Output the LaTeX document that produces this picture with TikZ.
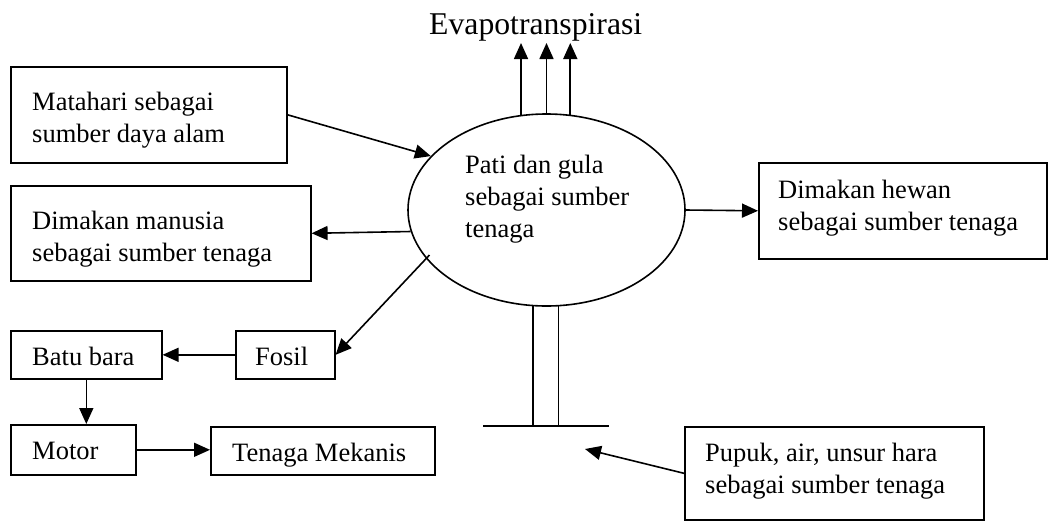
\documentclass[tikz,border=0pt]{standalone}
\usepackage{fontspec}
\setmainfont{Liberation Serif}
\usetikzlibrary{arrows.meta,shapes.geometric,calc}
\begin{document}
\begin{tikzpicture}[x=1pt,y=-1pt,
  box/.style={draw, line width=1.6pt, inner sep=0pt, anchor=north west},
  txt/.style={inner sep=0pt, anchor=north west, align=left, font=\fontsize{26.5}{32}\selectfont},
  conn/.style={line width=1.6pt},
  arr/.style={conn, -{Triangle[length=16pt,width=14pt]}}]
\useasboundingbox (0,0) rectangle (1048,520);

% boxes
\node[box, minimum width=276pt, minimum height=96pt] (mata) at (10,66) {};
\node[txt] (mataT) at ($(mata.north west)+(22,21.6)$) {\strut Matahari sebagai\\\strut sumber daya alam};

\node[box, minimum width=300pt, minimum height=95pt] (manu) at (10,185) {};
\node[txt] (manuT) at ($(manu.north west)+(22,21.6)$) {\strut Dimakan manusia\\\strut sebagai sumber tenaga};

\node[box, minimum width=288pt, minimum height=96pt] (hewan) at (758,162) {};
\node[txt] (hewanT) at ($(hewan.north west)+(20,13.6)$) {\strut Dimakan hewan\\\strut sebagai sumber tenaga};

\node[box, minimum width=151pt, minimum height=48pt] (batu) at (10,330) {};
\node[txt] (batuT) at ($(batu.north west)+(22,12.6)$) {\strut Batu bara};

\node[box, minimum width=99pt, minimum height=48pt] (fosil) at (235,330) {};
\node[txt] (fosilT) at ($(fosil.north west)+(20,12.6)$) {\strut Fosil};

\node[box, minimum width=125pt, minimum height=50pt] (motor) at (10,424) {};
\node[txt] (motorT) at ($(motor.north west)+(22,12.6)$) {\strut Motor};

\node[box, minimum width=224pt, minimum height=48pt] (tenaga) at (210,426) {};
\node[txt] (tenagaT) at ($(tenaga.north west)+(22,12.4)$) {\strut Tenaga Mekanis};

\node[box, minimum width=299pt, minimum height=93pt] (pupuk) at (684,426) {};
\node[txt] (pupukT) at ($(pupuk.north west)+(21,12.6)$) {\strut Pupuk, air, unsur hara\\\strut sebagai sumber tenaga};

% ellipse
\node[draw, ellipse, line width=1.6pt, minimum width=277pt, minimum height=192pt, inner sep=0pt] (ell) at (546.5,210) {};
\node[txt] (ellT) at (465,150.6) {\strut Pati dan gula\\\strut sebagai sumber\\\strut tenaga};

% evapotranspiration
\node[inner sep=0pt, anchor=base west, font=\fontsize{31.7}{38}\selectfont] (evap) at (429,34) {Evapotranspirasi};
\coordinate (evtop) at (0,43);
\draw[arr] (ell.105.1) -- (ell.105.1 |- evtop);
\draw[arr] (ell.90.3) -- (ell.90.3 |- evtop);
\draw[arr] (ell.76.05) -- (ell.76.05 |- evtop);

% connectors
\draw[arr] (mata.east) -- (ell.155.6);
\draw[arr] (ell.189.5) -- (manu.east);
\draw[arr] (ell.east) -- (hewan.west);
\draw[arr, shorten <=-5pt] (ell.202.5) -- (fosil.east);
\draw[arr] (fosil.west) -- (batu.east);
\draw[arr] (batu.south) -- (batu.south |- motor.north);
\draw[arr] (motor.east) -- (motor.east -| tenaga.west);

% ground / stem
\coordinate (gnd) at (0,426);
\draw[conn] (ell.262.55) -- (ell.262.55 |- gnd);
\draw[conn] (ell.277.45) -- (ell.277.45 |- gnd);
\coordinate (gL) at (483,426);
\coordinate (gR) at (609,426);
\draw[conn] (gL) -- (gR);

\coordinate (ptip) at (585,449);
\draw[arr] (pupuk.west) -- (ptip);
\end{tikzpicture}
\end{document}
